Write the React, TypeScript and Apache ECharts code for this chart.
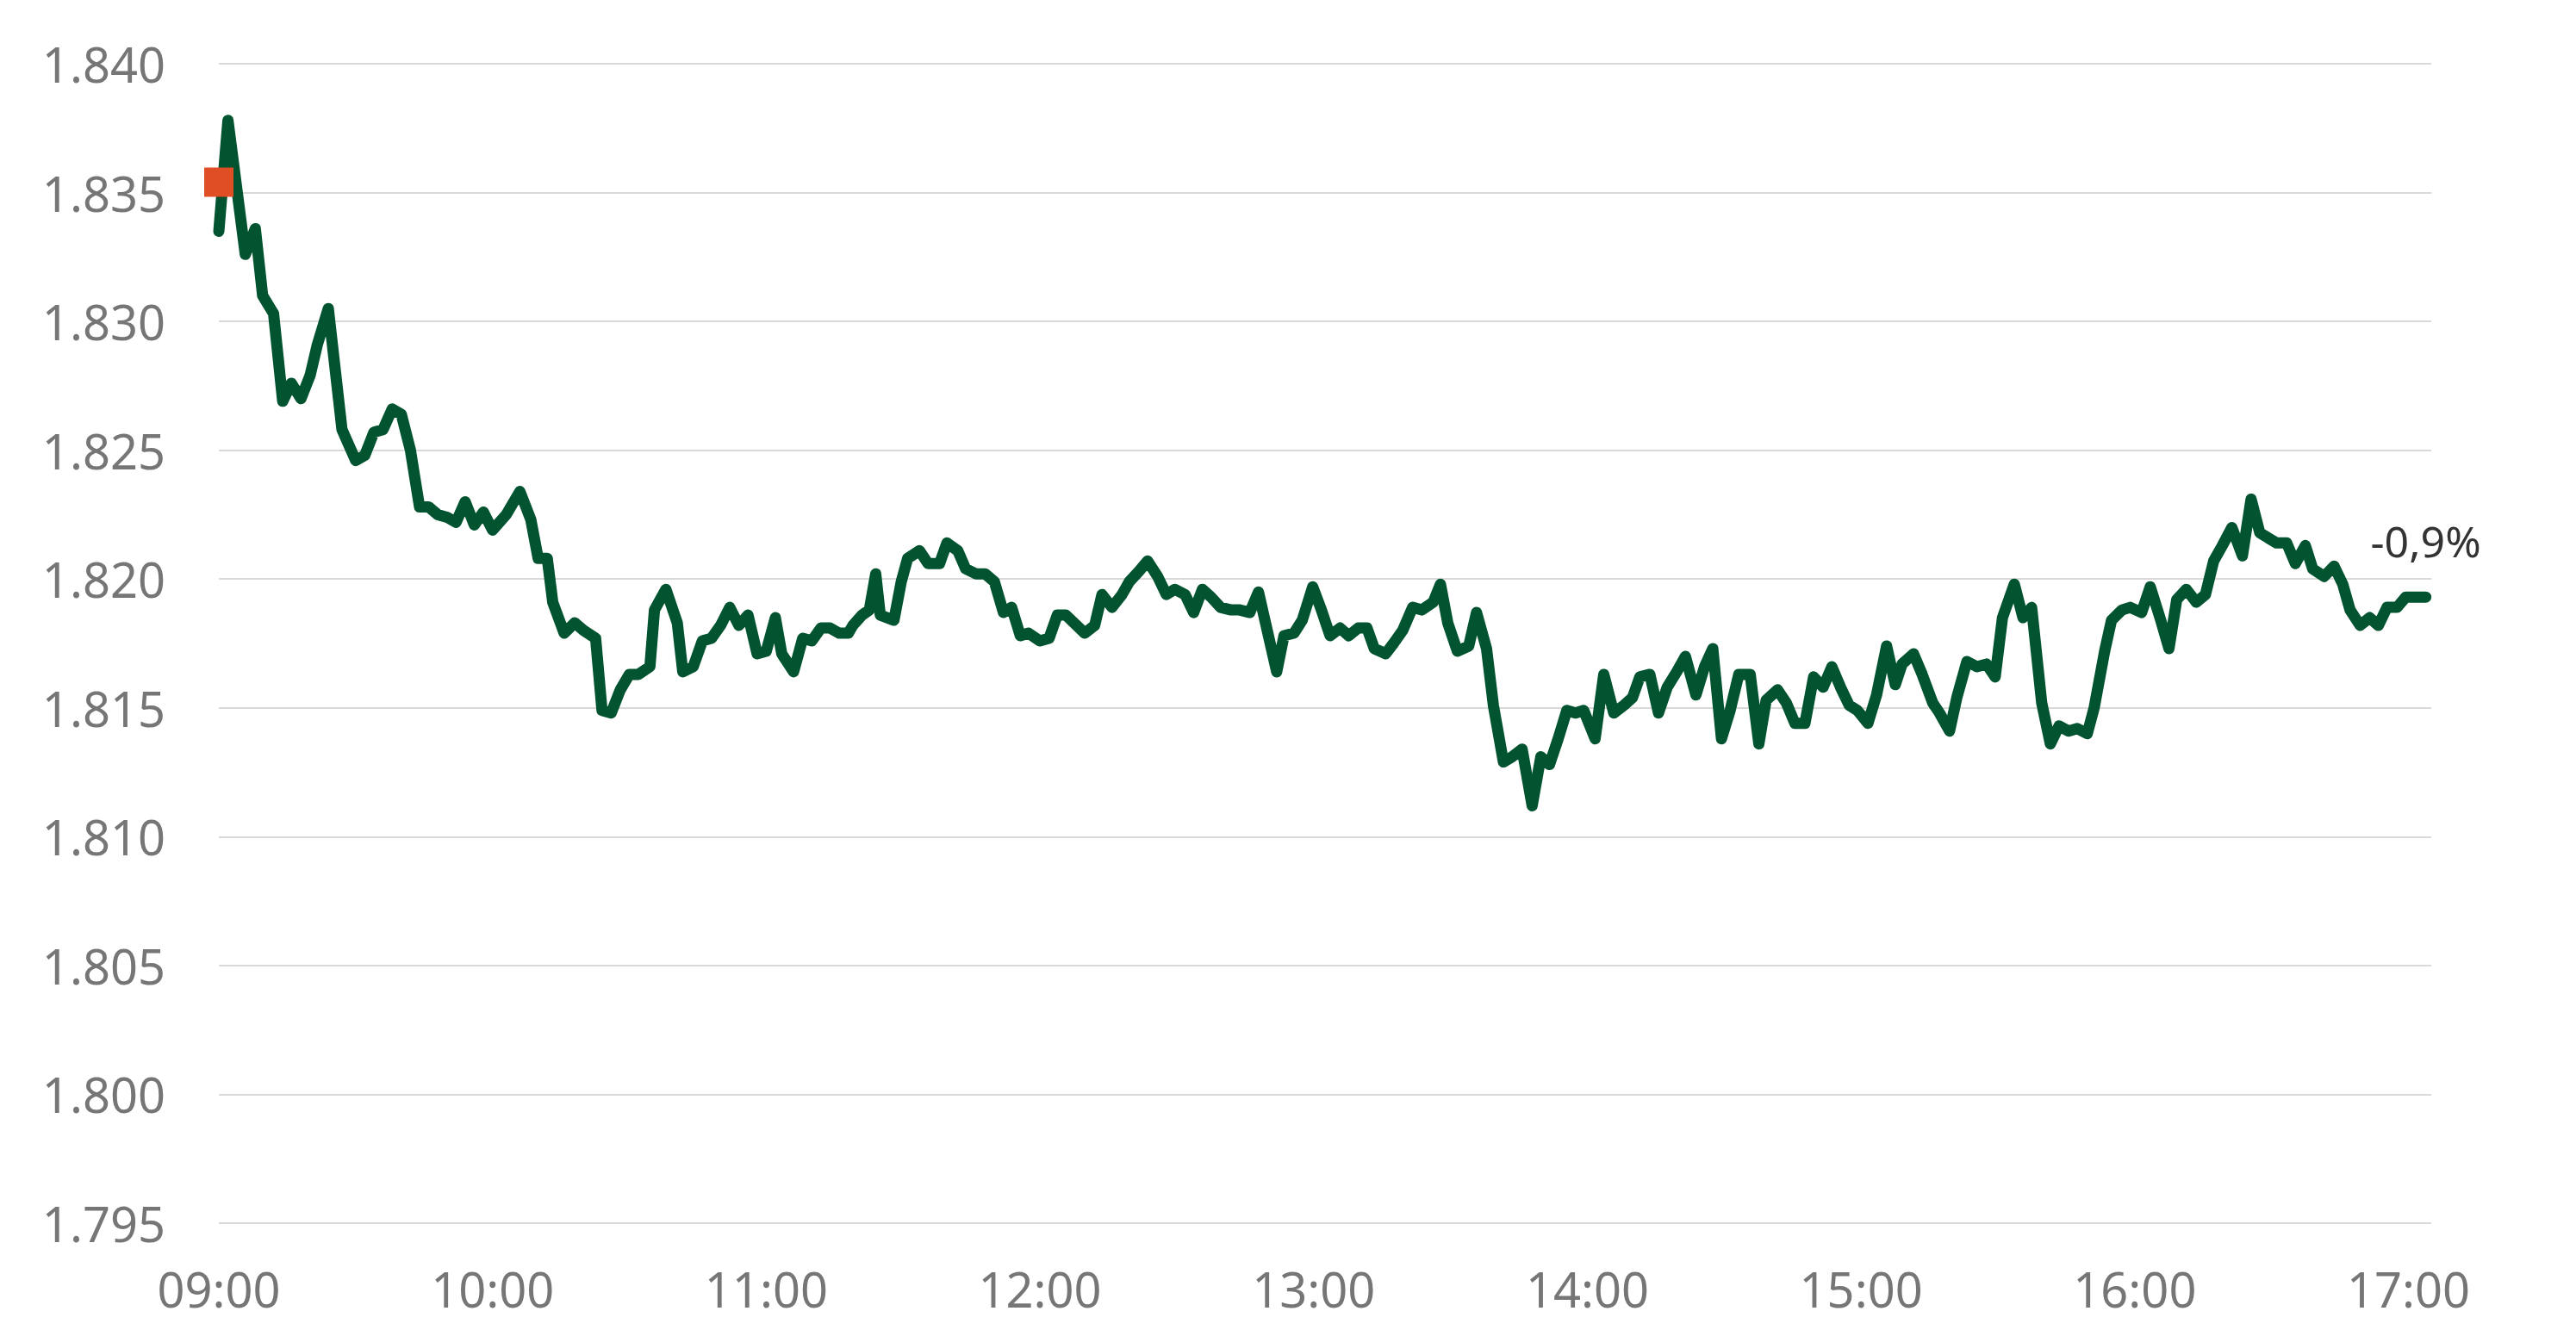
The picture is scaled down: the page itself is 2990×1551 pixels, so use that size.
import React, { useEffect, useRef } from "react";
import * as echarts from "echarts";

// minutes after 09:00 and index level
const t1 = [0, 2, 5.8, 8, 9.6, 12, 14, 15.9, 18, 20, 21.6, 24, 27, 30, 32, 34, 36, 38, 40, 42, 44, 46, 48, 50, 52, 54, 56, 58, 60, 63, 66, 68.4, 70, 72, 73.2, 75.7, 78, 80, 82.6, 84, 86, 88];
const p1 = [1.8335, 1.8378, 1.8326, 1.8336, 1.831, 1.8303, 1.8269, 1.8276, 1.827, 1.8279, 1.8291, 1.8305, 1.8258, 1.8246, 1.8248, 1.8257, 1.8258, 1.8266, 1.8264, 1.825, 1.8228, 1.8228, 1.8225, 1.8224, 1.8222, 1.823, 1.8221, 1.8226, 1.8219, 1.8225, 1.8234, 1.8223, 1.8208, 1.8208, 1.8191, 1.8179, 1.8183, 1.818, 1.8177, 1.8149, 1.8148, 1.8157];

const t2 = [90, 92, 94.5, 95.5, 98, 100.5, 101.7, 104, 106, 108, 110, 112, 114, 116, 118, 120, 122, 123.4, 126, 128, 130, 132, 134, 136, 138, 139, 141, 142.6, 144, 145, 148, 149.6, 151, 153.6, 155.5, 158, 159.6, 162, 163.7, 166, 168, 170, 172, 173.8];
const p2 = [1.8163, 1.8163, 1.8166, 1.8188, 1.8196, 1.8183, 1.8164, 1.8166, 1.8176, 1.8177, 1.8182, 1.8189, 1.8182, 1.8186, 1.8171, 1.8172, 1.8185, 1.8171, 1.8164, 1.8177, 1.8176, 1.8181, 1.8181, 1.8179, 1.8179, 1.8182, 1.8186, 1.8188, 1.8202, 1.8186, 1.8184, 1.8199, 1.8208, 1.8211, 1.8206, 1.8206, 1.8214, 1.8211, 1.8204, 1.8202, 1.8202, 1.8199, 1.8187, 1.8189];

const t3 = [175.7, 177.5, 180, 182, 183.8, 185.7, 189.8, 192, 193.6, 195.8, 198, 199.6, 201.7, 203.6, 205.8, 207.7, 209.6, 211.8, 213.7, 215.6, 217.5, 219.6, 221.9, 223.8, 226, 227.9, 229.7, 231.9, 233.5, 235.7, 237.5, 239.8, 241.7, 243.6, 245.8, 247.7, 249.8, 251.7, 253.3, 255.8, 257.5, 259.5, 261.7];
const p3 = [1.8178, 1.8179, 1.8176, 1.8177, 1.8186, 1.8186, 1.8179, 1.8182, 1.8194, 1.8189, 1.8194, 1.8199, 1.8203, 1.8207, 1.8201, 1.8194, 1.8196, 1.8194, 1.8187, 1.8196, 1.8193, 1.8189, 1.8188, 1.8188, 1.8187, 1.8195, 1.8181, 1.8164, 1.8178, 1.8179, 1.8184, 1.8197, 1.8188, 1.8178, 1.8181, 1.8178, 1.8181, 1.8181, 1.8173, 1.8171, 1.8175, 1.818, 1.8189];

const t4 = [263.7, 266.2, 267.8, 269.4, 271.5, 274, 275.7, 277.9, 279.4, 281.6, 283.5, 285.7, 287.9, 289.8, 291.7, 293.6, 295.5, 297.4, 299.2, 301.7, 303.6, 305.8, 308, 309.9, 311.5, 313.7, 315.6, 317.5, 319.6, 321.5, 323.8, 325.7, 327.5, 329.4, 331.3, 333.2, 335.7, 337.6, 339.2, 341.7, 343.6, 345.5, 347.7];
const p4 = [1.8188, 1.8191, 1.8198, 1.8183, 1.8172, 1.8174, 1.8187, 1.8173, 1.8151, 1.8129, 1.8131, 1.8134, 1.8112, 1.8131, 1.8128, 1.8138, 1.8149, 1.8148, 1.8149, 1.8138, 1.8163, 1.8148, 1.8151, 1.8154, 1.8162, 1.8163, 1.8148, 1.8158, 1.8164, 1.817, 1.8155, 1.8166, 1.8173, 1.8138, 1.8149, 1.8163, 1.8163, 1.8136, 1.8153, 1.8157, 1.8152, 1.8144, 1.8144];

const t5 = [349.6, 351.7, 353.6, 355.5, 357.4, 359.2, 361.5, 363.4, 365.6, 367.5, 369, 371.5, 373.4, 375.7, 377.2, 379.4, 381, 383.2, 385.4, 387.5, 389.4, 391, 393.6, 395.5, 397.4, 399.6, 401.5, 403.4, 405.5, 407.4, 409.6, 411.1, 413.4, 414.9, 417.2, 419, 421.5, 423.4, 425.7, 427.5];
const p5 = [1.8162, 1.8158, 1.8166, 1.8158, 1.8151, 1.8149, 1.8144, 1.8155, 1.8174, 1.8159, 1.8167, 1.8171, 1.8163, 1.8152, 1.8148, 1.8141, 1.8154, 1.8168, 1.8166, 1.8167, 1.8162, 1.8185, 1.8198, 1.8185, 1.8189, 1.8152, 1.8136, 1.8143, 1.8141, 1.8142, 1.814, 1.815, 1.8172, 1.8184, 1.8188, 1.8189, 1.8187, 1.8197, 1.8184, 1.8173];

const t6 = [429.2, 431.3, 433.5, 435.5, 437.3, 439.2, 441.3, 443.6, 445.5, 447.4, 449.2, 451.1, 453.3, 455.2, 457.4, 459, 461.5, 463.7, 465.6, 467.2, 469.4, 471.5, 473.4, 475.3, 477.5, 479.4, 481.3, 483.8];
const p6 = [1.8192, 1.8196, 1.8191, 1.8194, 1.8207, 1.8213, 1.822, 1.8209, 1.8231, 1.8218, 1.8216, 1.8214, 1.8214, 1.8206, 1.8213, 1.8204, 1.8201, 1.8205, 1.8198, 1.8188, 1.8182, 1.8185, 1.8182, 1.8189, 1.8189, 1.8193, 1.8193, 1.8193];

const previousClose = 1.8354;
const hourLabels = ["09:00", "10:00", "11:00", "12:00", "13:00", "14:00", "15:00", "16:00", "17:00"];
const yMin = 1.795;
const yMax = 1.84;
const yStep = 0.005;

const times = [...t1, ...t2, ...t3, ...t4, ...t5, ...t6];
const prices = [...p1, ...p2, ...p3, ...p4, ...p5, ...p6];

const FONT = '"Noto Sans", "Open Sans", sans-serif';

export default function App() {
  const ref = useRef<HTMLDivElement>(null);

  useEffect(() => {
    if (!ref.current) return;
    const chart = echarts.init(ref.current, null, { renderer: "svg" });
    const data = times.map((t, i) => [t, prices[i]]);
    const last = data[data.length - 1];
    const change = (last[1] / previousClose - 1) * 100;
    const changeText = change.toFixed(1).replace(".", ",") + "%";

    chart.setOption({
      animation: false,
      backgroundColor: "#ffffff",
      textStyle: { fontFamily: FONT },
      grid: { left: 254, right: 168, top: 74, bottom: 131, containLabel: false },
      xAxis: {
        type: "value",
        min: 0,
        max: 485,
        interval: 60,
        axisLine: { show: false },
        axisTick: { show: false },
        splitLine: { show: false },
        axisLabel: {
          fontFamily: FONT,
          fontSize: 56,
          color: "#767676",
          margin: 48,
          formatter: (v: number) => (v % 60 === 0 ? hourLabels[v / 60] ?? "" : ""),
        },
      },
      yAxis: {
        type: "value",
        min: yMin,
        max: yMax,
        interval: yStep,
        axisLine: { show: false },
        axisTick: { show: false },
        splitLine: { lineStyle: { color: "#d9d9d9", width: 2 } },
        axisLabel: {
          fontFamily: FONT,
          fontSize: 56,
          color: "#767676",
          margin: 62,
          formatter: (v: number) => v.toFixed(3),
        },
      },
      series: [
        {
          type: "line",
          data,
          symbol: "none",
          showSymbol: false,
          clip: false,
          z: 2,
          lineStyle: { color: "#02532F", width: 13, cap: "round", join: "round" },
        },
        {
          type: "scatter",
          data: [[0, previousClose]],
          symbol: "rect",
          symbolSize: 34,
          clip: false,
          z: 3,
          itemStyle: { color: "#DF4E24", opacity: 1 },
        },
        {
          type: "scatter",
          data: [last],
          symbol: "circle",
          symbolSize: 1,
          clip: false,
          z: 4,
          itemStyle: { color: "rgba(0,0,0,0)" },
          label: {
            show: true,
            position: "top",
            distance: 40,
            formatter: changeText,
            fontFamily: FONT,
            fontSize: 50,
            color: "#000000",
          },
        },
      ],
    });
    return () => chart.dispose();
  }, []);

  return (
    <div
      ref={ref}
      style={{ position: "fixed", left: 0, top: 0, width: 2990, height: 1551, background: "#ffffff" }}
    />
  );
}
